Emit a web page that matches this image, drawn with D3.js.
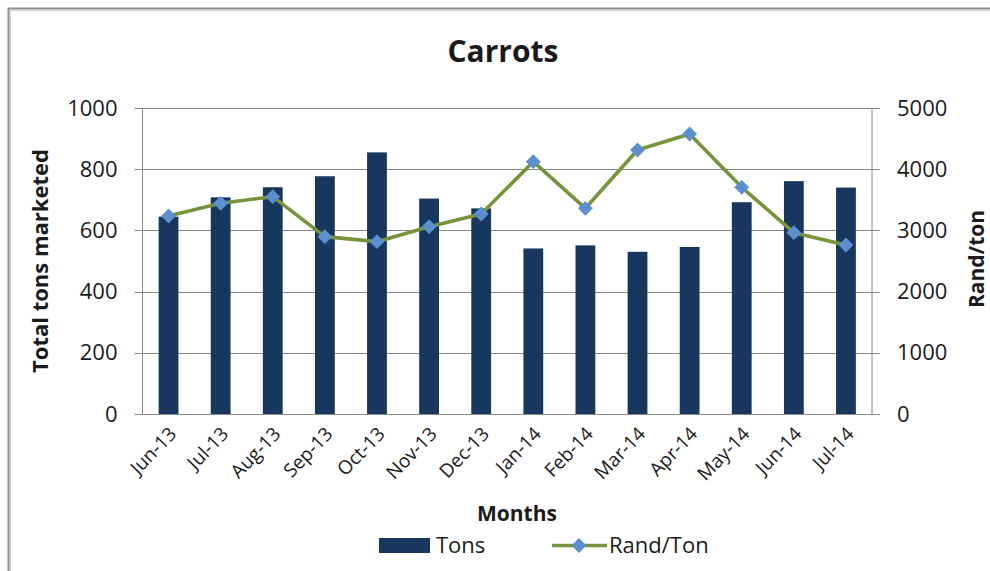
<!DOCTYPE html>
<html>
<head>
<meta charset="utf-8">
<script src="https://cdn.jsdelivr.net/npm/d3@7"></script>
<style>
  html, body { margin: 0; padding: 0; background: #fff; }
  svg { display: block; }
  text { font-family: "Open Sans", "DejaVu Sans", sans-serif; fill: #1a1a1a; }
</style>
</head>
<body>
<svg id="chart" width="990" height="571"></svg>
<script>
const months = ["Jun-13","Jul-13","Aug-13","Sep-13","Oct-13","Nov-13","Dec-13","Jan-14","Feb-14","Mar-14","Apr-14","May-14","Jun-14","Jul-14"];
const tons = [645, 708, 741, 777, 855, 704, 672, 541, 551, 530, 546, 692, 761, 740];
const randPerTon = [3235, 3443, 3551, 2898, 2816, 3061, 3268, 4123, 3361, 4314, 4575, 3704, 2963, 2761];
const leftTicks = [0, 200, 400, 600, 800, 1000];
const rightTicks = [0, 1000, 2000, 3000, 4000, 5000];

const svg = d3.select("#chart");
const W = 990, H = 571;
const L = 142.5, R = 872, T = 108, B = 414;

// frame
svg.append("rect").attr("x", 8.5).attr("y", 8.5).attr("width", W + 20).attr("height", H + 20)
  .attr("fill", "#fff").attr("stroke", "#8f8f8f").attr("stroke-width", 2);
svg.append("rect").attr("x", 10.5).attr("y", 10.5).attr("width", W + 20).attr("height", H + 20)
  .attr("fill", "none").attr("stroke", "#d4d4d4").attr("stroke-width", 1);

const x = d3.scaleBand().domain(months).range([L, R]).paddingInner(0.62).paddingOuter(0.31);
const yL = d3.scaleLinear().domain([0, 1000]).range([B, T]);
const yR = d3.scaleLinear().domain([0, 5000]).range([B, T]);

// gridlines (including outward ticks on both sides)
svg.append("g").selectAll("line").data(leftTicks).join("line")
  .attr("x1", L - 8).attr("x2", R + 8)
  .attr("y1", d => Math.round(yL(d)) + 0.5).attr("y2", d => Math.round(yL(d)) + 0.5)
  .attr("stroke", "#8a8a8a").attr("stroke-width", 1);

// axis lines
svg.append("line").attr("x1", L).attr("x2", L).attr("y1", T).attr("y2", B).attr("stroke", "#8a8a8a");
svg.append("line").attr("x1", R).attr("x2", R).attr("y1", T).attr("y2", B).attr("stroke", "#8a8a8a");

// left axis labels
const gl = svg.append("g").attr("transform", `translate(${L},0)`)
  .call(d3.axisLeft(yL).tickValues(leftTicks).tickFormat(d3.format("d")).tickSize(0).tickPadding(25));
gl.select(".domain").remove();
gl.selectAll("text").style("font-size", "22px").attr("fill", "#1a1a1a")
  .style("font-family", '"Open Sans", sans-serif');

// right axis labels
const gr = svg.append("g").attr("transform", `translate(${R},0)`)
  .call(d3.axisRight(yR).tickValues(rightTicks).tickFormat(d3.format("d")).tickSize(0).tickPadding(25));
gr.select(".domain").remove();
gr.selectAll("text").style("font-size", "22px").attr("fill", "#1a1a1a")
  .style("font-family", '"Open Sans", sans-serif');

// bars
svg.append("g").selectAll("rect").data(months).join("rect")
  .attr("x", d => x(d)).attr("width", x.bandwidth())
  .attr("y", (d, i) => yL(tons[i])).attr("height", (d, i) => B - yL(tons[i]))
  .attr("fill", "#17375e");

// line
const line = d3.line().x((d, i) => x(months[i]) + x.bandwidth() / 2).y(d => yR(d));
svg.append("path").datum(randPerTon).attr("d", line)
  .attr("fill", "none").attr("stroke", "#77933c").attr("stroke-width", 3.6).attr("stroke-linejoin", "round");

const diamond = d3.symbol().type(d3.symbolDiamond2).size(140);
svg.append("g").selectAll("path").data(randPerTon).join("path")
  .attr("d", diamond)
  .attr("transform", (d, i) => `translate(${x(months[i]) + x.bandwidth() / 2},${yR(d)})`)
  .attr("fill", "#5b8fcf");

// x tick labels
const gx = svg.append("g").attr("transform", `translate(0,${B})`)
  .call(d3.axisBottom(x).tickSize(0).tickPadding(0));
gx.select(".domain").remove();
gx.selectAll("text")
  .style("font-size", "19px").style("font-family", '"Open Sans", sans-serif').attr("fill", "#1a1a1a")
  .attr("text-anchor", "end").attr("dy", null).attr("y", 0)
  .attr("transform", "translate(9,21) rotate(-46)");

// title
svg.append("text").attr("x", 503).attr("y", 62).attr("text-anchor", "middle")
  .style("font-size", "30px").style("font-weight", "bold").text("Carrots");

// axis titles
svg.append("text").attr("transform", "translate(48,261) rotate(-90)").attr("text-anchor", "middle")
  .style("font-size", "22px").style("font-weight", "bold").text("Total tons marketed");
svg.append("text").attr("transform", "translate(984,259) rotate(-90)").attr("text-anchor", "middle")
  .style("font-size", "21px").style("font-weight", "bold").text("Rand/ton");
svg.append("text").attr("x", 517).attr("y", 521).attr("text-anchor", "middle")
  .style("font-size", "21px").style("font-weight", "bold").text("Months");

// legend
const lg = svg.append("g");
lg.append("rect").attr("x", 379).attr("y", 538).attr("width", 51).attr("height", 15).attr("fill", "#17375e");
lg.append("text").attr("x", 436).attr("y", 553).style("font-size", "22px").text("Tons");
lg.append("line").attr("x1", 552).attr("x2", 607).attr("y1", 545.5).attr("y2", 545.5)
  .attr("stroke", "#77933c").attr("stroke-width", 3.6);
lg.append("path").attr("d", diamond).attr("transform", "translate(579,545.5)").attr("fill", "#5b8fcf");
lg.append("text").attr("x", 609).attr("y", 553).style("font-size", "22px").text("Rand/Ton");
</script>
</body>
</html>
